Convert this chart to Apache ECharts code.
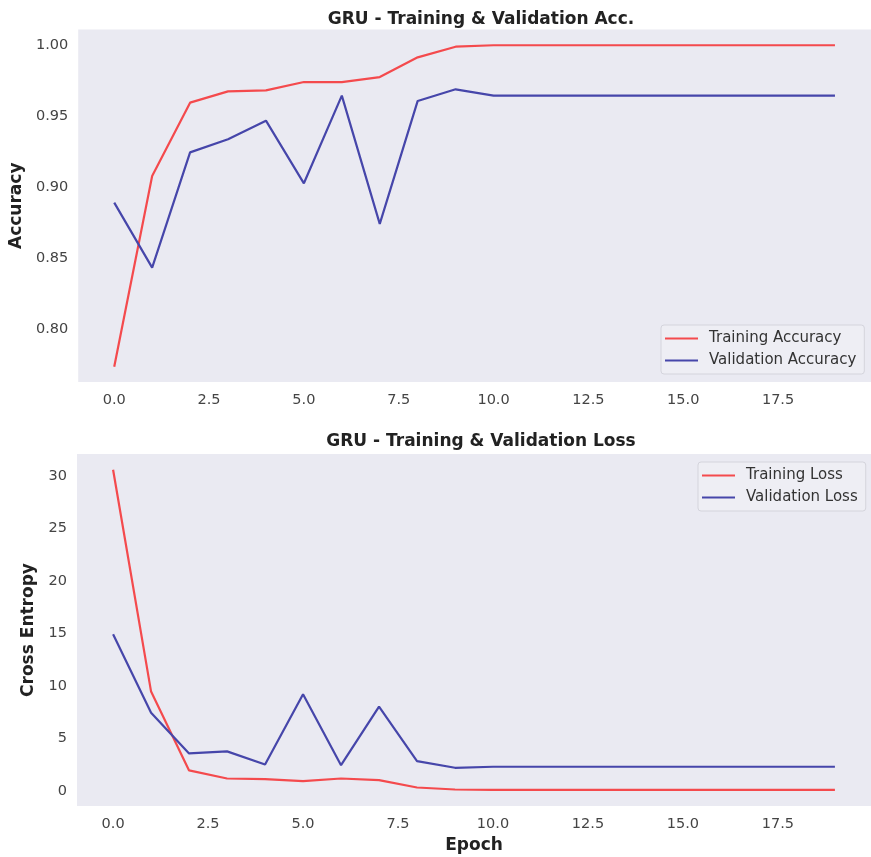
<!DOCTYPE html>
<html>
<head>
<meta charset="utf-8">
<script src="https://cdn.jsdelivr.net/npm/echarts@6/dist/echarts.min.js"></script>
<style>
html,body{margin:0;padding:0;background:#fff;}
#chart{width:871px;height:857px;}
</style>
</head>
<body>
<div id="chart"></div>
<script>
const epochs = [0,1,2,3,4,5,6,7,8,9,10,11,12,13,14,15,16,17,18,19];
const trainAcc = [0.7737,0.908,0.9596,0.9675,0.9682,0.9741,0.9741,0.9776,0.9915,0.999,1.0,1.0,1.0,1.0,1.0,1.0,1.0,1.0,1.0,1.0];
const valAcc = [0.8892,0.8434,0.9246,0.9338,0.9469,0.9028,0.9645,0.8742,0.9608,0.969,0.9646,0.9646,0.9646,0.9646,0.9646,0.9646,0.9646,0.9646,0.9646,0.9646];
const trainLoss = [30.6,9.47,1.96,1.19,1.13,0.94,1.19,1.03,0.33,0.14,0.11,0.11,0.11,0.11,0.11,0.11,0.11,0.11,0.11,0.11];
const valLoss = [14.93,7.46,3.58,3.77,2.53,9.21,2.46,8.03,2.85,2.21,2.31,2.31,2.31,2.31,2.31,2.31,2.31,2.31,2.31,2.31];
const xTicks = [0,2.5,5,7.5,10,12.5,15,17.5];
const accTicks = [0.80,0.85,0.90,0.95,1.00];
const lossTicks = [0,5,10,15,20,25,30];

const RED = '#f44a4d';
const BLUE = '#4646aa';
const BG = '#eaeaf2';
const FONT = 'DejaVu Sans';
const TXT = '#444';

const pairs = arr => epochs.map((e,i)=>[e, arr[i]]);

function xAxisCfg(idx, name){
  return {
    type:'value', gridIndex: idx, min:-0.95, max:19.95,
    axisLine:{show:false}, axisTick:{show:false}, splitLine:{show:false},
    axisLabel:{customValues:xTicks, formatter:v=>v.toFixed(1), color:TXT, fontFamily:FONT, fontSize:14.5, margin:11},
    name: name || '', nameLocation:'middle', nameGap:31,
    nameTextStyle:{fontFamily:FONT, fontWeight:'bold', fontSize:17, color:'#222'}
  };
}
function yAxisCfg(idx, min, max, ticks, dec, name, gap){
  return {
    type:'value', gridIndex: idx, min:min, max:max,
    axisLine:{show:false}, axisTick:{show:false}, splitLine:{show:false},
    axisLabel:{customValues:ticks, formatter:v=>v.toFixed(dec), color:TXT, fontFamily:FONT, fontSize:14.5, margin:10},
    name:name, nameLocation:'middle', nameGap:gap, nameRotate:90,
    nameTextStyle:{fontFamily:FONT, fontWeight:'bold', fontSize:17, color:'#222'}
  };
}
function legendCfg(names, left, top){
  return {
    data:names, orient:'vertical', left:left, top:top,
    icon:'rect', itemWidth:33, itemHeight:2.2, itemGap:7,
    backgroundColor:'rgba(238,238,245,0.85)', borderColor:'#d4d4dc', borderWidth:1, borderRadius:3,
    padding:[6,8,6,4],
    textStyle:{fontFamily:FONT, fontSize:15, color:'#333', padding:[0,0,0,6]}
  };
}
function lineSeries(name, data, color, xi, yi){
  return {
    type:'line', name:name, data:data, xAxisIndex:xi, yAxisIndex:yi,
    symbol:'none', lineStyle:{color:color, width:2.2}, itemStyle:{color:color},
    animation:false
  };
}

const chart = echarts.init(document.getElementById('chart'), null, {renderer:'canvas'});
chart.setOption({
  animation:false,
  backgroundColor:'#ffffff',
  title:[
    {text:'GRU - Training & Validation Acc.', left:476, top:6, textAlign:'center',
     textStyle:{fontFamily:FONT, fontWeight:'bold', fontSize:17, color:'#222'}},
    {text:'GRU - Training & Validation Loss', left:476, top:428, textAlign:'center',
     textStyle:{fontFamily:FONT, fontWeight:'bold', fontSize:17, color:'#222'}}
  ],
  grid:[
    {left:77, top:29.5, width:798, height:352.5, show:true, backgroundColor:BG, borderWidth:0, containLabel:false},
    {left:77, top:454, width:798, height:352, show:true, backgroundColor:BG, borderWidth:0, containLabel:false}
  ],
  xAxis:[xAxisCfg(0), xAxisCfg(1,'Epoch')],
  yAxis:[
    yAxisCfg(0, 0.7629, 1.0111, accTicks, 2, 'Accuracy', 52),
    yAxisCfg(1, -1.43, 32.1, lossTicks, 0, 'Cross Entropy', 40)
  ],
  legend:[
    legendCfg(['Training Accuracy','Validation Accuracy'], 661, 325),
    legendCfg(['Training Loss','Validation Loss'], 698, 462)
  ],
  series:[
    lineSeries('Training Accuracy', pairs(trainAcc), RED, 0, 0),
    lineSeries('Validation Accuracy', pairs(valAcc), BLUE, 0, 0),
    lineSeries('Training Loss', pairs(trainLoss), RED, 1, 1),
    lineSeries('Validation Loss', pairs(valLoss), BLUE, 1, 1)
  ]
});
</script>
</body>
</html>
